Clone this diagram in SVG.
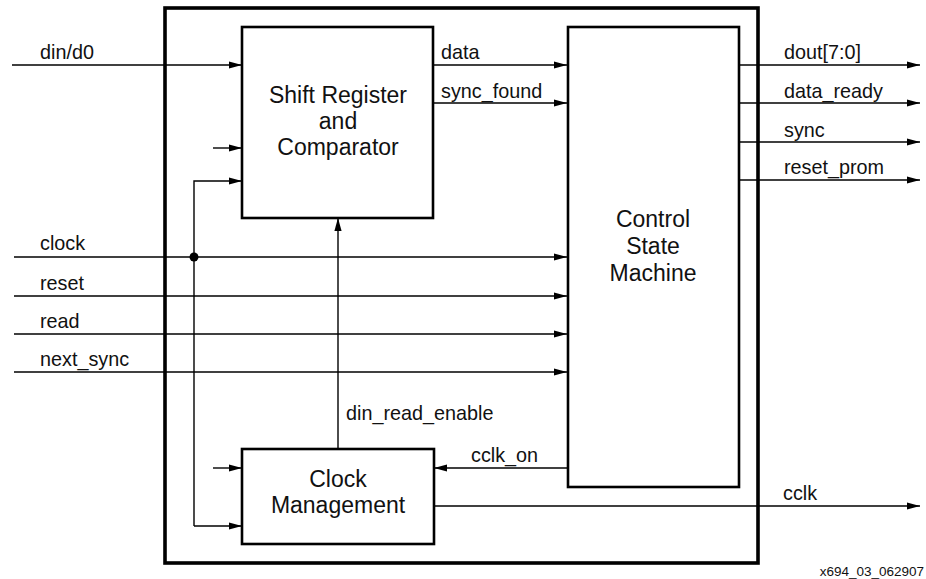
<svg xmlns="http://www.w3.org/2000/svg" width="926" height="579" viewBox="0 0 926 579">
  <style>
    .wire { fill: none; stroke: #000; stroke-width: 1.4; }
    .arrow { marker-end: url(#head); }
    .block { fill: #fff; stroke: #000; stroke-width: 2.6; }
    .frame { fill: none; stroke: #000; stroke-width: 3.6; }
    .sig { font-family: "Liberation Sans", Arial, sans-serif; font-size: 19.8px; fill: #111; }
    .title { font-family: "Liberation Sans", Arial, sans-serif; font-size: 23px; fill: #111; text-anchor: middle; }
    .note { font-family: "Liberation Sans", Arial, sans-serif; font-size: 13.5px; fill: #111; text-anchor: end; }
  </style>
  <defs>
    <marker id="head" markerUnits="userSpaceOnUse" markerWidth="14" markerHeight="8" refX="13" refY="3.6" orient="auto">
      <path d="M0,0 L13,3.6 L0,7.2 z" fill="#000"/>
    </marker>
  </defs>

  <rect width="926" height="579" fill="#fff"/>

  <!-- enclosing module boundary -->
  <rect id="module" class="frame" x="165" y="8" width="593" height="555"/>

  <!-- signal wiring -->
  <g id="connectors">
    <!-- external inputs -->
    <line class="wire arrow" x1="12" y1="65" x2="242" y2="65"/>
    <line class="wire arrow" x1="14" y1="257" x2="567" y2="257"/>
    <line class="wire arrow" x1="14" y1="296" x2="567" y2="296"/>
    <line class="wire arrow" x1="14" y1="334" x2="567" y2="334"/>
    <line class="wire arrow" x1="14" y1="372" x2="567" y2="372"/>
    <!-- unlabeled stub inputs -->
    <line class="wire arrow" x1="213" y1="148" x2="242" y2="148"/>
    <line class="wire arrow" x1="213" y1="468" x2="242" y2="468"/>
    <!-- clock fan-out to both left blocks -->
    <polyline class="wire arrow" points="194,526 194,181 242,181"/>
    <line class="wire arrow" x1="194" y1="526" x2="242" y2="526"/>
    <circle cx="194" cy="257" r="4.5" fill="#000"/>
    <!-- shift register to state machine -->
    <line class="wire arrow" x1="433" y1="65" x2="567" y2="65"/>
    <line class="wire arrow" x1="433" y1="103" x2="567" y2="103"/>
    <!-- outputs -->
    <line class="wire arrow" x1="739" y1="65" x2="920" y2="65"/>
    <line class="wire arrow" x1="739" y1="103" x2="920" y2="103"/>
    <line class="wire arrow" x1="739" y1="142" x2="920" y2="142"/>
    <line class="wire arrow" x1="739" y1="180" x2="920" y2="180"/>
    <!-- clock management links -->
    <line class="wire arrow" x1="338" y1="449" x2="338" y2="218"/>
    <line class="wire arrow" x1="567" y1="468" x2="434" y2="468"/>
    <line class="wire arrow" x1="434" y1="506" x2="920" y2="506"/>
  </g>

  <g id="shift-register">
    <rect class="block" x="242" y="27" width="191" height="191"/>
    <text class="title" x="338" y="103">Shift Register</text>
    <text class="title" x="338" y="129">and</text>
    <text class="title" x="338" y="155">Comparator</text>
  </g>

  <g id="control-state-machine">
    <rect class="block" x="568" y="27" width="171" height="460"/>
    <text class="title" x="653" y="227">Control</text>
    <text class="title" x="653" y="254">State</text>
    <text class="title" x="653" y="281">Machine</text>
  </g>

  <g id="clock-management">
    <rect class="block" x="242" y="449" width="192" height="95"/>
    <text class="title" x="338" y="487">Clock</text>
    <text class="title" x="338" y="513">Management</text>
  </g>

  <!-- signal names -->
  <g id="labels">
    <text class="sig" x="40" y="59">din/d0</text>
    <text class="sig" x="40" y="250">clock</text>
    <text class="sig" x="40" y="290">reset</text>
    <text class="sig" x="40" y="328">read</text>
    <text class="sig" x="40" y="366">next_sync</text>
    <text class="sig" x="441" y="59">data</text>
    <text class="sig" x="441" y="98">sync_found</text>
    <text class="sig" x="784" y="59">dout[7:0]</text>
    <text class="sig" x="784" y="98">data_ready</text>
    <text class="sig" x="784" y="137">sync</text>
    <text class="sig" x="784" y="174">reset_prom</text>
    <text class="sig" x="346" y="420">din_read_enable</text>
    <text class="sig" x="471" y="462">cclk_on</text>
    <text class="sig" x="783" y="500">cclk</text>
    <text class="note" x="924" y="576">x694_03_062907</text>
  </g>
</svg>
